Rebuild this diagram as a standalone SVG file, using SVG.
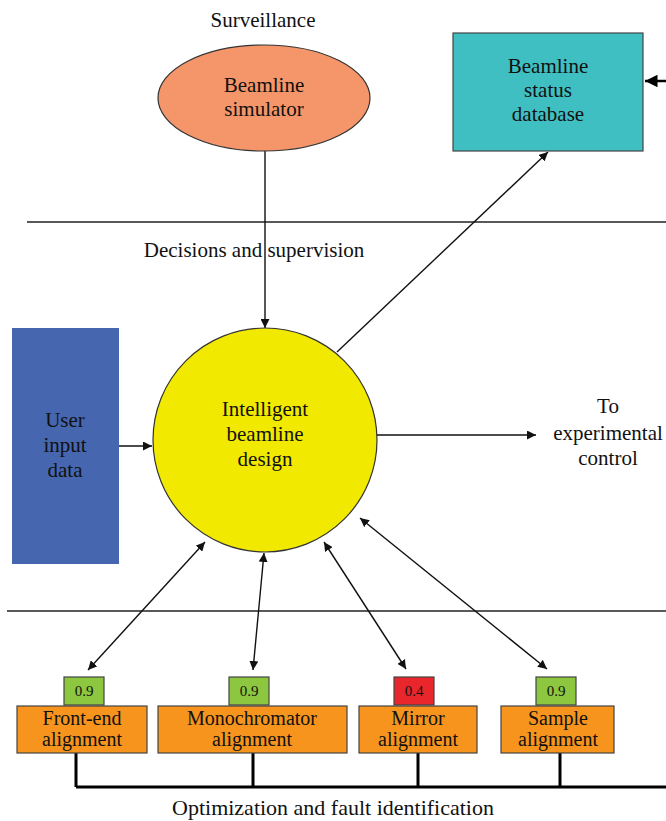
<svg xmlns="http://www.w3.org/2000/svg" width="666" height="821" viewBox="0 0 666 821">
<style>
text{font-family:"Liberation Serif","Times New Roman",serif;fill:#111;text-anchor:middle}
.lbl{font-size:21px}
.alg{font-size:20px}
.opt{font-size:22px}
.num{font-size:15px}
.sep{stroke:#222;stroke-width:1.3;fill:none}
.con{stroke:#111;stroke-width:1.4;fill:none}
.bus{stroke:#000;stroke-width:3;fill:none}
.box{stroke:#444;stroke-width:1.2}
</style>
<defs>
<marker id="ah" viewBox="0 0 10 10" refX="10" refY="5" markerWidth="9" markerHeight="9" markerUnits="userSpaceOnUse" orient="auto-start-reverse">
<path d="M0,0 L10,5 L0,10 z" fill="#111"/>
</marker>
<marker id="ahb" viewBox="0 0 10 10" refX="10" refY="5" markerWidth="5" markerHeight="5" orient="auto">
<path d="M0,0 L10,5 L0,10 z" fill="#000"/>
</marker>
</defs>

<g id="separators">
<line class="sep" x1="27" y1="222" x2="666" y2="222"/>
<line class="sep" x1="7" y1="611" x2="666" y2="611"/>
</g>

<g id="section-labels">
<text class="lbl" x="263" y="27">Surveillance</text>
<text class="lbl" x="254" y="257">Decisions and supervision</text>
<text class="opt" x="333" y="815">Optimization and fault identification</text>
</g>

<g id="connectors">
<line class="con" x1="265" y1="151" x2="265" y2="328" marker-end="url(#ah)"/>
<line class="con" x1="337" y1="352" x2="548" y2="152" marker-end="url(#ah)"/>
<line x1="666" y1="81" x2="645" y2="81" stroke="#000" stroke-width="2.5" marker-end="url(#ahb)"/>
<line class="con" x1="119" y1="446" x2="152" y2="446" marker-end="url(#ah)"/>
<line class="con" x1="377" y1="435" x2="536" y2="435" marker-end="url(#ah)"/>
<line class="con" x1="205" y1="542" x2="88" y2="670" marker-start="url(#ah)" marker-end="url(#ah)"/>
<line class="con" x1="264" y1="553" x2="253" y2="670" marker-start="url(#ah)" marker-end="url(#ah)"/>
<line class="con" x1="324" y1="542" x2="406" y2="669" marker-start="url(#ah)" marker-end="url(#ah)"/>
<line class="con" x1="360" y1="518" x2="547" y2="669" marker-start="url(#ah)" marker-end="url(#ah)"/>
<path class="bus" d="M76,753 V787 M253,753 V787 M418,753 V787 M560,753 V787 M76,787 H666"/>
</g>

<g id="simulator">
<ellipse cx="264" cy="98" rx="106" ry="53" fill="#F4966A" stroke="#333" stroke-width="1.2"/>
<text class="lbl" x="264" y="92">Beamline</text>
<text class="lbl" x="264" y="116">simulator</text>
</g>

<g id="status-db">
<rect class="box" x="453" y="33" width="190" height="118" fill="#40BFC2"/>
<text class="lbl" x="548" y="73">Beamline</text>
<text class="lbl" x="548" y="97">status</text>
<text class="lbl" x="548" y="121">database</text>
</g>

<g id="user-input">
<rect x="12" y="328" width="107" height="236" fill="#4666AF"/>
<text class="lbl" x="65" y="427">User</text>
<text class="lbl" x="65" y="452">input</text>
<text class="lbl" x="65" y="477">data</text>
</g>

<g id="intelligent-design">
<circle cx="265" cy="440" r="112" fill="#F2E900" stroke="#333" stroke-width="1.2"/>
<text class="lbl" x="265" y="416">Intelligent</text>
<text class="lbl" x="265" y="441">beamline</text>
<text class="lbl" x="265" y="466">design</text>
</g>

<g id="experimental-control">
<text class="lbl" x="608" y="413">To</text>
<text class="lbl" x="608" y="440">experimental</text>
<text class="lbl" x="608" y="465">control</text>
</g>

<g id="front-end">
<rect class="box" x="64" y="677" width="40" height="28" fill="#8DC63F"/>
<text class="num" x="84" y="696">0.9</text>
<rect class="box" x="17" y="706" width="130" height="47" fill="#F7941D"/>
<text class="alg" x="82" y="725">Front-end</text>
<text class="alg" x="82" y="746">alignment</text>
</g>

<g id="monochromator">
<rect class="box" x="229" y="677" width="40" height="28" fill="#8DC63F"/>
<text class="num" x="249" y="696">0.9</text>
<rect class="box" x="158" y="706" width="189" height="47" fill="#F7941D"/>
<text class="alg" x="252" y="725">Monochromator</text>
<text class="alg" x="252" y="746">alignment</text>
</g>

<g id="mirror">
<rect class="box" x="394" y="677" width="40" height="28" fill="#E8262B"/>
<text class="num" x="414" y="696">0.4</text>
<rect class="box" x="359" y="706" width="118" height="47" fill="#F7941D"/>
<text class="alg" x="418" y="725">Mirror</text>
<text class="alg" x="418" y="746">alignment</text>
</g>

<g id="sample">
<rect class="box" x="536" y="677" width="40" height="28" fill="#8DC63F"/>
<text class="num" x="556" y="696">0.9</text>
<rect class="box" x="501" y="706" width="113" height="47" fill="#F7941D"/>
<text class="alg" x="558" y="725">Sample</text>
<text class="alg" x="558" y="746">alignment</text>
</g>
</svg>
